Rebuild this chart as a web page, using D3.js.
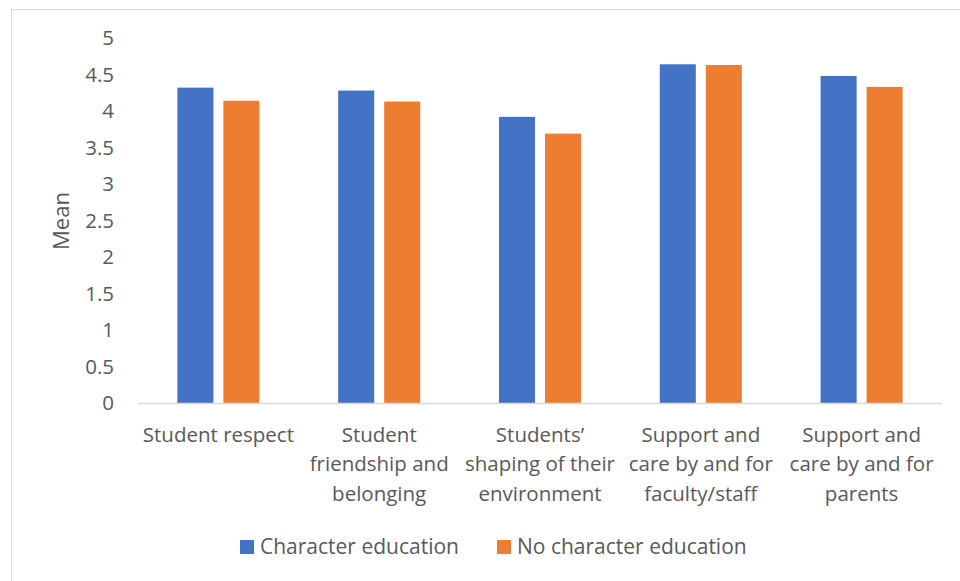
<!DOCTYPE html>
<html><head><meta charset="utf-8">
<script src="https://cdn.jsdelivr.net/npm/d3@7"></script>
<style>body{margin:0;background:#fff}svg{display:block}text{font-family:"Open Sans",sans-serif;fill:#595959}</style>
</head><body>
<script>
const categories = [
  ["Student respect"],
  ["Student", "friendship and", "belonging"],
  ["Students\u2019", "shaping of their", "environment"],
  ["Support and", "care by and for", "faculty/staff"],
  ["Support and", "care by and for", "parents"]
];
const seriesNames = ["Character education", "No character education"];
const characterEd = [4.32, 4.28, 3.92, 4.64, 4.48];
const noCharacterEd = [4.14, 4.13, 3.69, 4.63, 4.33];
const yTicks = [0, 0.5, 1, 1.5, 2, 2.5, 3, 3.5, 4, 4.5, 5];
const colors = ["#4472C4", "#ED7D31"];

(function () {
const W = 960, H = 581;
const svg = d3.select("body").append("svg").attr("width", W).attr("height", H);
svg.append("rect").attr("x", 11.5).attr("y", 9.5).attr("width", 960).attr("height", 600)
  .attr("fill", "#fff").attr("stroke", "#d9d9d9").attr("stroke-width", 1);

const mLeft = 138, mRight = 942, mTop = 38, mBottom = 403;
const x = d3.scaleBand().domain(d3.range(categories.length)).range([mLeft, mRight]).paddingInner(0).paddingOuter(0);
const y = d3.scaleLinear().domain([0, 5]).range([mBottom, mTop]);

const inner = d3.scaleBand().domain([0, 1]).range([0, x.bandwidth()]).paddingInner(0.217).paddingOuter(0.856);

const yAxis = d3.axisLeft(y).tickValues(yTicks).tickFormat(d3.format("")).tickSize(0).tickPadding(24);
const gy = svg.append("g").attr("transform", `translate(${mLeft},0)`).call(yAxis);
gy.select(".domain").remove();
gy.selectAll("text").attr("font-size", 20.5).style("font-family", "'Open Sans',sans-serif").attr("fill", "#595959");

const series = [characterEd, noCharacterEd];
series.forEach((vals, si) => {
  svg.append("g").selectAll("rect").data(vals).join("rect")
    .attr("x", (d, i) => x(i) + inner(si))
    .attr("width", inner.bandwidth())
    .attr("y", d => y(d))
    .attr("height", d => y(0) - y(d))
    .attr("fill", colors[si]);
});

svg.append("line").attr("x1", mLeft).attr("x2", mRight).attr("y1", mBottom + 0.5).attr("y2", mBottom + 0.5)
  .attr("stroke", "#d9d9d9").attr("stroke-width", 1.5);

const xl = svg.append("g");
categories.forEach((lines, i) => {
  const cx = x(i) + x.bandwidth() / 2;
  const t = xl.append("text").attr("text-anchor", "middle").attr("font-size", 20.5)
    .attr("x", cx).attr("y", 441.5);
  lines.forEach((l, j) => t.append("tspan").attr("x", cx).attr("dy", j ? 29.5 : 0).text(l));
});

svg.append("text").attr("transform", "translate(69,221) rotate(-90)").attr("text-anchor", "middle")
  .attr("font-size", 22).text("Mean");

const legX = [240, 497];
seriesNames.forEach((n, i) => {
  svg.append("rect").attr("x", legX[i]).attr("y", 540).attr("width", 14).attr("height", 14).attr("fill", colors[i]);
  svg.append("text").attr("x", legX[i] + 20).attr("y", 554).attr("font-size", 21).text(n);
});
})();
</script>
</body></html>
